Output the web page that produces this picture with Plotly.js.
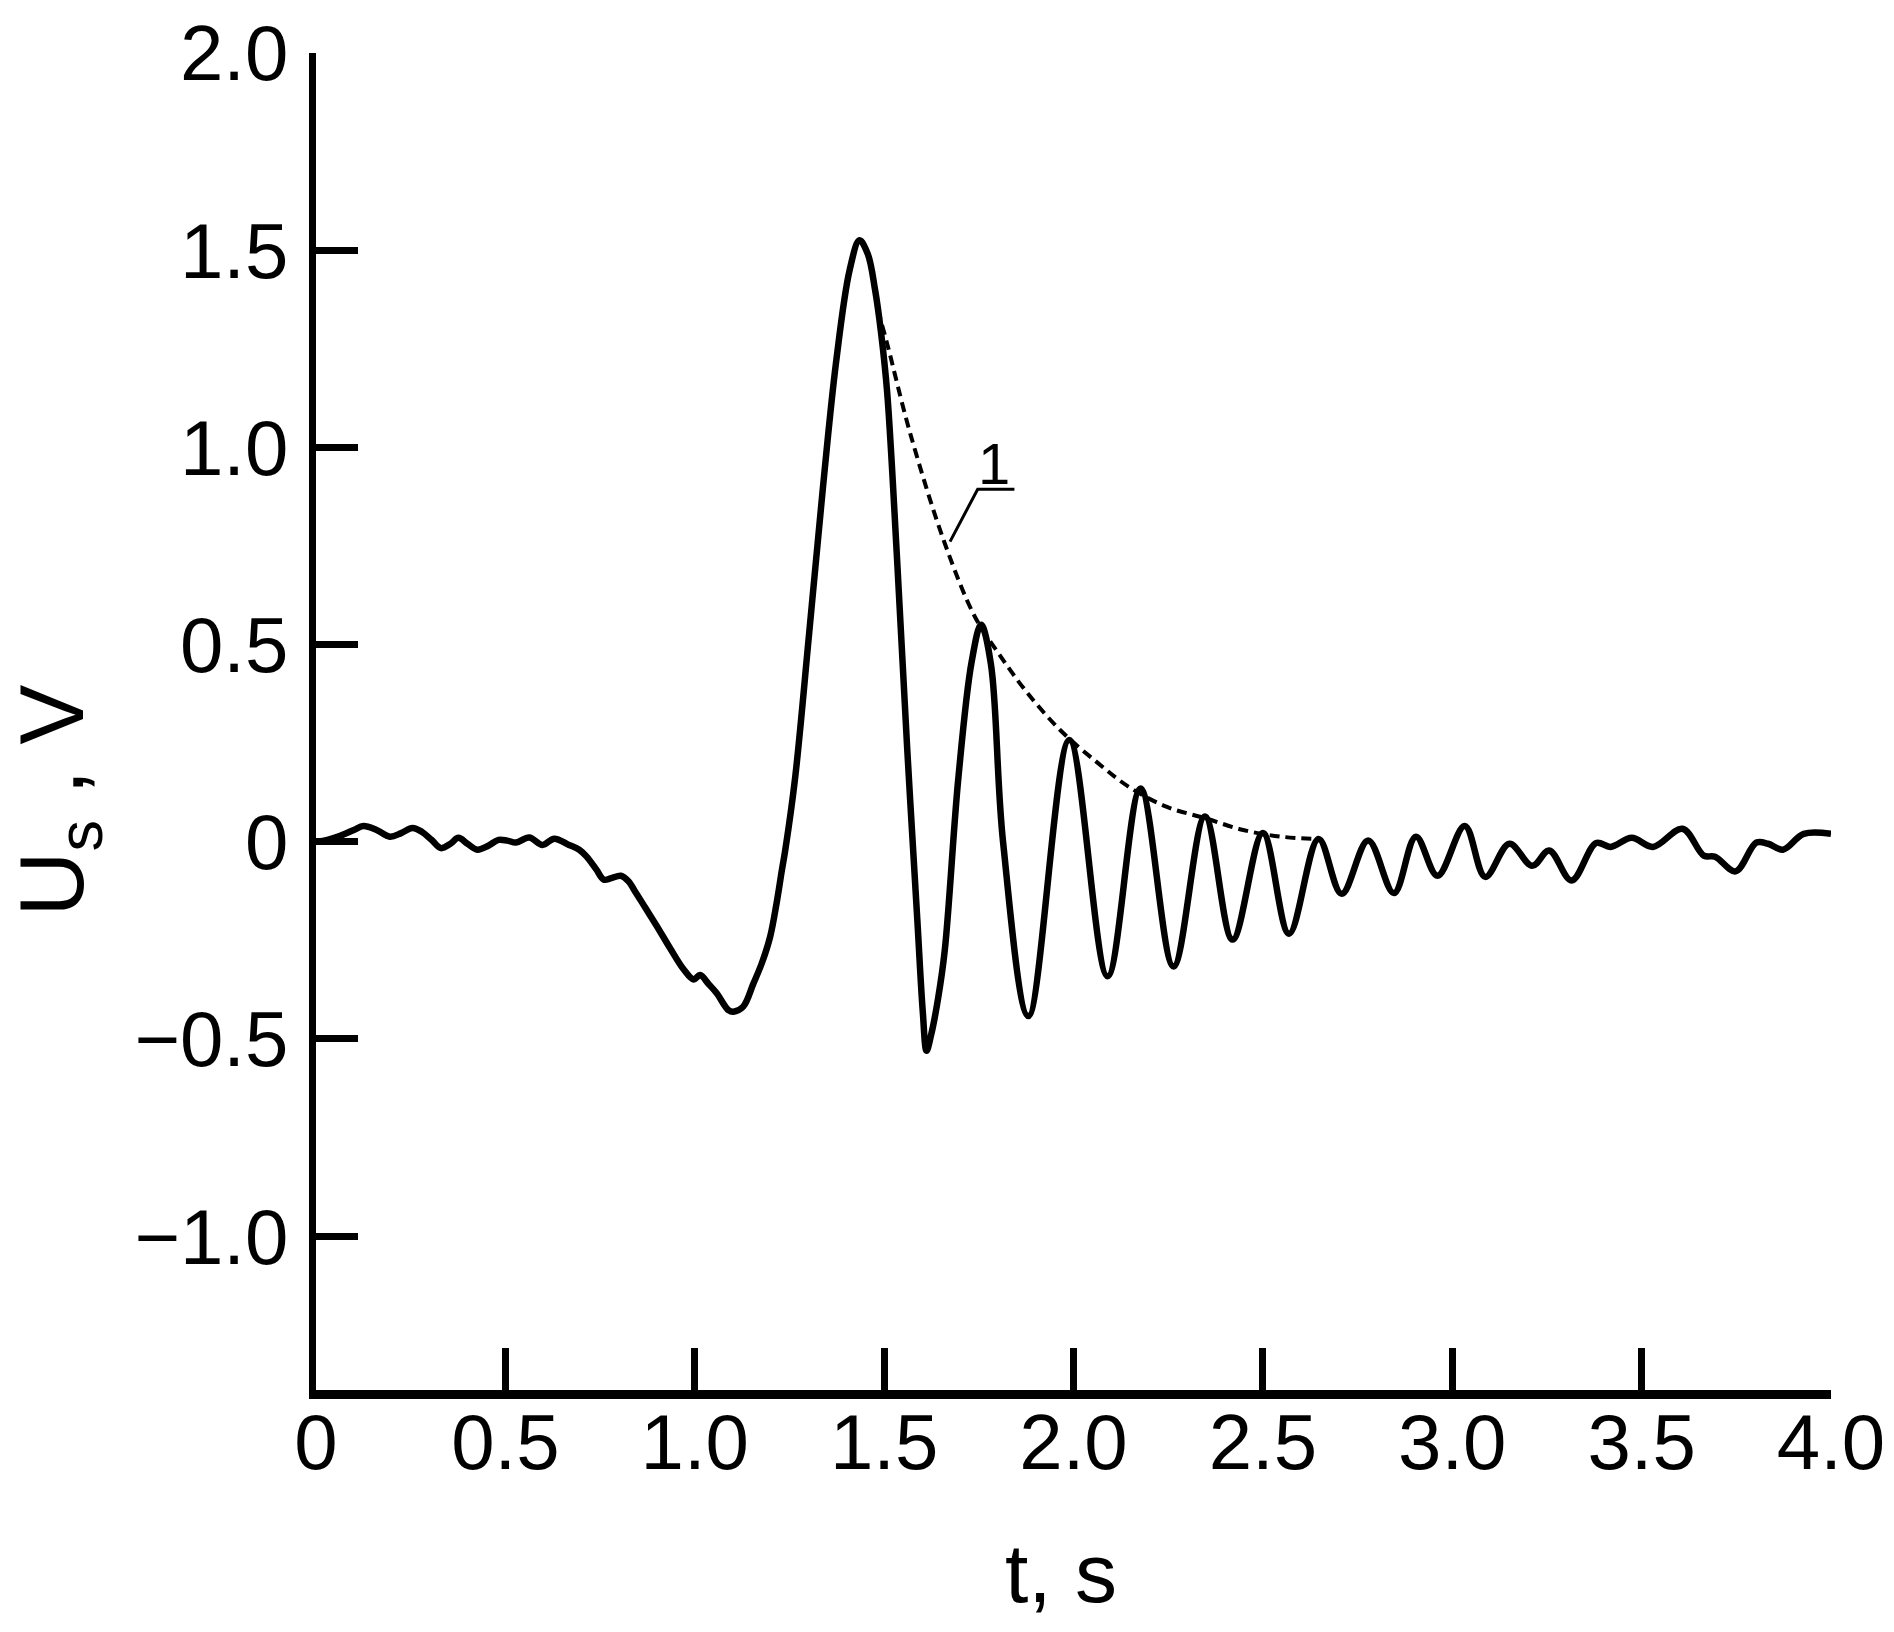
<!DOCTYPE html>
<html>
<head>
<meta charset="utf-8">
<script src="https://cdn.plot.ly/plotly-3.0.1.min.js"></script>
<style>html,body{margin:0;padding:0;background:#fff;}#chart{width:1894px;height:1632px;}</style>
</head>
<body>
<div id="chart"></div>
<script>
// Measured signal U_s(t)
const tSignal = [0.00,0.03,0.064,0.10,0.125,0.16,0.195,0.225,0.255,0.28,0.305,0.33,0.355,0.376,0.40,0.426,0.455,0.482,0.505,0.528,0.563,0.598,0.629,0.668,0.695,0.714,0.74,0.76,0.78,0.805,0.825,0.84,0.87,0.90,0.935,0.971,0.997,1.014,1.036,1.058,1.089,1.102,1.128,1.155,1.177,1.199,1.216,1.23,1.239,1.265,1.302,1.338,1.373,1.409,1.435,1.457,1.476,1.492,1.508,1.534,1.561,1.588,1.602,1.612,1.624,1.642,1.66,1.696,1.731,1.756,1.782,1.814,1.881,1.989,2.09,2.177,2.264,2.347,2.42,2.5,2.569,2.647,2.708,2.778,2.846,2.904,2.961,3.033,3.087,3.151,3.211,3.256,3.315,3.38,3.418,3.474,3.53,3.608,3.664,3.694,3.748,3.803,3.834,3.873,3.928,4.0];
const uSignal = [0.00,0.005,0.015,0.03,0.04,0.03,0.013,0.022,0.035,0.025,0.005,-0.016,-0.005,0.01,-0.005,-0.02,-0.01,0.005,0.003,-0.002,0.011,-0.008,0.008,-0.008,-0.02,-0.037,-0.07,-0.096,-0.092,-0.086,-0.10,-0.122,-0.168,-0.214,-0.27,-0.324,-0.349,-0.338,-0.36,-0.384,-0.427,-0.431,-0.418,-0.359,-0.308,-0.241,-0.156,-0.072,-0.021,0.162,0.528,0.894,1.215,1.45,1.525,1.49,1.40,1.29,1.14,0.72,0.235,-0.204,-0.43,-0.53,-0.49,-0.40,-0.276,0.162,0.456,0.55,0.45,0.0,-0.442,0.258,-0.341,0.135,-0.316,0.064,-0.248,0.022,-0.233,0.007,-0.132,0.003,-0.13,0.013,-0.086,0.04,-0.089,-0.005,-0.061,-0.022,-0.098,-0.003,-0.013,0.01,-0.013,0.033,-0.035,-0.038,-0.075,-0.002,-0.005,-0.02,0.02,0.02];

// Envelope curve 1
const tEnvelope = [1.483,1.508,1.569,1.66,1.74,1.802,1.872,1.964,2.064,2.145,2.245,2.347,2.448,2.548,2.648];
const uEnvelope = [1.35,1.263,1.035,0.757,0.57,0.478,0.385,0.284,0.20,0.14,0.089,0.06,0.03,0.013,0.007];

// Leader line for label "1"
const tLeader = [1.674,1.747,1.844];
const uLeader = [0.761,0.894,0.894];
const labelText = "1";
const labelPos = [1.789, 0.958];

// Axis ticks
const xTickVals = [0,0.5,1.0,1.5,2.0,2.5,3.0,3.5,4.0];
const xTickText = ["0","0.5","1.0","1.5","2.0","2.5","3.0","3.5","4.0"];
const yTickVals = [2.0,1.5,1.0,0.5,0,-0.5,-1.0];
const yTickText = ["2.0","1.5","1.0","0.5","0","\u22120.5","\u22121.0"];

const xTitle = "t, s";
const yTitle = "U<sub>s</sub> , V";

const FONT = "Liberation Sans, Arial, sans-serif";

const traces = [
  {x: tSignal, y: uSignal, mode: "lines", line: {color: "#000", width: 6.5, shape: "spline", smoothing: 1}, hoverinfo: "skip"},
  {x: tEnvelope, y: uEnvelope, mode: "lines", line: {color: "#000", width: 4, dash: "10px,6px", shape: "spline", smoothing: 1}, hoverinfo: "skip"},
  {x: tLeader, y: uLeader, mode: "lines", line: {color: "#000", width: 3}, hoverinfo: "skip"}
];

const layout = {
  width: 1894, height: 1632,
  margin: {l: 316, r: 63, t: 53, b: 242},
  paper_bgcolor: "#fff", plot_bgcolor: "#fff",
  showlegend: false,
  font: {family: FONT, color: "#000"},
  xaxis: {
    range: [0, 4.0], showgrid: false, zeroline: false,
    showline: true, linecolor: "#000", linewidth: 9,
    ticks: "inside", ticklen: 42, tickwidth: 7, tickcolor: "#000",
    tickvals: xTickVals, ticktext: xTickText,
    tickfont: {family: FONT, size: 78, color: "#000"},
    ticklabelstandoff: -24
  },
  yaxis: {
    range: [-1.39, 2.0], showgrid: false, zeroline: false,
    showline: true, linecolor: "#000", linewidth: 7,
    ticks: "inside", ticklen: 42, tickwidth: 7, tickcolor: "#000",
    tickvals: yTickVals, ticktext: yTickText,
    tickfont: {family: FONT, size: 78, color: "#000"},
    ticklabelstandoff: 5
  },
  annotations: [
    {text: labelText, x: labelPos[0], y: labelPos[1], xref: "x", yref: "y", showarrow: false,
     font: {family: FONT, size: 58, color: "#000"}, xanchor: "center", yanchor: "middle"},
    {text: xTitle, x: 0.492, y: -0.137, xref: "paper", yref: "paper", showarrow: false,
     font: {family: FONT, size: 84, color: "#000"}, xanchor: "center", yanchor: "middle"},
    {text: yTitle, x: -0.1703, y: 0.441, xref: "paper", yref: "paper", showarrow: false, textangle: -90,
     font: {family: FONT, size: 90, color: "#000"}, xanchor: "center", yanchor: "middle"}
  ]
};

Plotly.newPlot("chart", traces, layout, {staticPlot: true, displayModeBar: false});
</script>
</body>
</html>
